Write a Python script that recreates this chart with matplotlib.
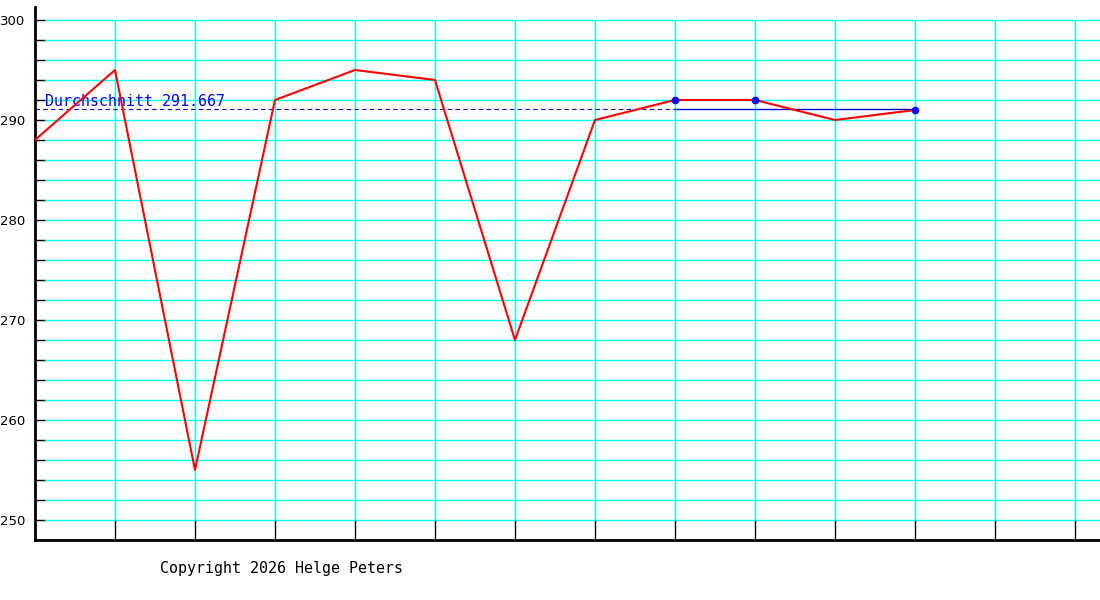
import matplotlib
matplotlib.use('Agg')
import matplotlib.pyplot as plt

# Messwerte
x_idx = [0, 1, 2, 3, 4, 5, 6, 7, 8, 9, 10, 11]
values = [288, 295, 255, 292, 295, 294, 268, 290, 292, 292, 290, 291]
marked_idx = [8, 9, 11]
avg_label = 'Durchschnitt 291.667'
avg_level = 291.1
trend_x = [8, 11]
trend_y = [291.1, 291.1]
y_labels = [250, 260, 270, 280, 290, 300]
copyright_text = 'Copyright 2026 Helge Peters'

W, H = 1100, 600
fig = plt.figure(figsize=(W / 100, H / 100), dpi=100)
ax = fig.add_axes([35 / W, 60 / H, 1065 / W, 533 / H])

xmax = 1065 / 80
ax.set_xlim(0, xmax)
ax.set_ylim(248, 248 + 53.3)

# Gitter
grid_y = list(range(250, 301, 2))
ax.hlines(grid_y, 0.125, xmax, color='#00ffff', lw=1)
ax.vlines(range(1, 14), 250, 300, color='#00ffff', lw=1)
ax.vlines(range(1, 14), 248, 250, color='black', lw=1)

# Achsen
for s in ['top', 'right']:
    ax.spines[s].set_visible(False)
ax.spines['left'].set_linewidth(2)
ax.spines['bottom'].set_linewidth(2)
ax.set_xticks([])
ax.set_yticks(y_labels)
ax.set_yticks(grid_y, minor=True)
ax.tick_params(axis='y', which='both', direction='in', length=7.5, width=1,
               pad=7, labelsize=9.5)
for t in ax.get_yticklabels():
    t.set_family('DejaVu Sans')

# Durchschnitt
ax.plot([0, 8], [avg_level, avg_level], color='#0000cc', lw=0.8, ls=(0, (4, 3)))
ax.plot(trend_x, trend_y, color='#0000cc', lw=1)
ax.text(0.125, 291.45, avg_label, color='#0000ff', family='DejaVu Sans Mono',
        fontsize=10.8, va='baseline', ha='left')

# Verlauf
ax.plot(x_idx, values, color='#ff0000', lw=1.5, zorder=5)
ax.plot(marked_idx, [values[i] for i in marked_idx], ls='none', marker='o',
        ms=4.5, color='#0000ff', zorder=6)

fig.text(281 / W, 1 - 568 / H, copyright_text, family='DejaVu Sans Mono',
         fontsize=10.8, ha='center', va='center')

fig.savefig('out.png', dpi=100)
